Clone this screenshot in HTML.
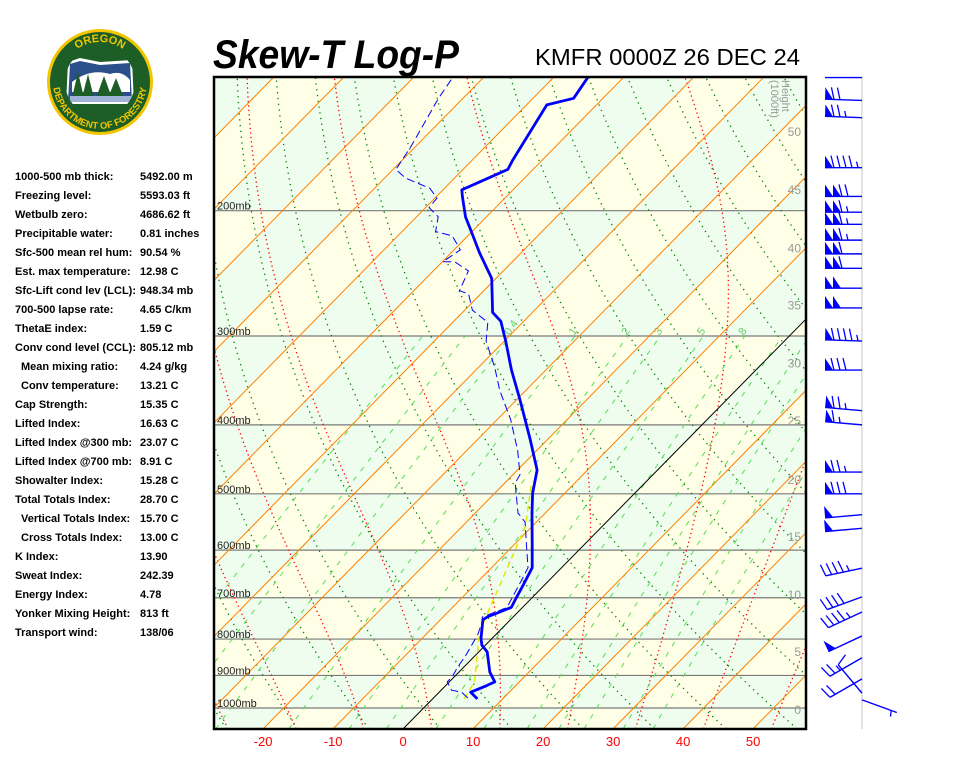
<!DOCTYPE html>
<html><head><meta charset="utf-8">
<style>
html,body{margin:0;padding:0;background:#fff;width:960px;height:768px;overflow:hidden}
svg{display:block;font-family:"Liberation Sans",Arial,sans-serif}
</style></head>
<body>
<svg id="root" width="960" height="768" viewBox="0 0 960 768" xmlns="http://www.w3.org/2000/svg">
<defs>
<clipPath id="plotclip"><rect x="214" y="77" width="592" height="652"/></clipPath>
<clipPath id="logoclip"><circle cx="100" cy="82" r="35"/></clipPath>
<path id="arcTop" d="M60,82 A40,40 0 0 1 140,82"/>
<path id="arcBot" d="M55.8,65.9 A47,47 0 1 0 144.2,65.9"/>
</defs>
<g>
<circle cx="100" cy="82" r="53" fill="#f2c500"/>
<circle cx="100" cy="82" r="50" fill="#1d5e26"/>
<g clip-path="url(#logoclip)">
<path d="M68,62 L80,58 L100,62 L132,60 L134,104 L66,104 Z" fill="#ffffff"/>
<path d="M70,64 L80,61 L100,65 L130,63 L132,102 L68,102 Z" fill="#2a4f8a"/>
<path d="M72,82 Q90,68 110,74 Q122,70 130,80 L130,92 L72,92 Z" fill="#ffffff"/>
<path d="M72,98 L78,72 L84,98 Z M82,98 L88,74 L94,98 Z M96,98 L104,76 L112,98 Z M108,98 L116,78 L124,98 Z" fill="#1d5e26"/>
<rect x="70" y="96" width="62" height="6" fill="#9fb4d6"/>
</g>
<text font-size="11" font-weight="bold" fill="#f2c500" text-anchor="middle"><textPath href="#arcTop" startOffset="50%">OREGON</textPath></text>
<text font-size="9.5" font-weight="bold" fill="#f2c500" text-anchor="middle"><textPath href="#arcBot" startOffset="50%">DEPARTMENT OF FORESTRY</textPath></text>
</g>
<text x="213" y="68" font-size="40" font-weight="bold" font-style="italic" textLength="246" lengthAdjust="spacingAndGlyphs">Skew-T Log-P</text>
<text x="535" y="65" font-size="23" textLength="265" lengthAdjust="spacingAndGlyphs">KMFR 0000Z 26 DEC 24</text>
<g id="stats" font-size="11" font-weight="bold"></g>
<g id="plot" clip-path="url(#plotclip)"></g>
<rect x="214" y="77" width="592" height="652" fill="none" stroke="#000" stroke-width="2.5"/>
<g id="axes"></g>
<line x1="862" y1="77" x2="862" y2="729" stroke="#e2e2e2" stroke-width="2"/>
<g id="barbs"></g>
</svg>
<script>
// ---------- data ----------
const statLabels = ["1000-500 mb thick:","Freezing level:","Wetbulb zero:","Precipitable water:","Sfc-500 mean rel hum:","Est. max temperature:","Sfc-Lift cond lev (LCL):","700-500 lapse rate:","ThetaE index:","Conv cond level (CCL):","Mean mixing ratio:","Conv temperature:","Cap Strength:","Lifted Index:","Lifted Index @300 mb:","Lifted Index @700 mb:","Showalter Index:","Total Totals Index:","Vertical Totals Index:","Cross Totals Index:","K Index:","Sweat Index:","Energy Index:","Yonker Mixing Height:","Transport wind:"];
const statValues = ["5492.00 m","5593.03 ft","4686.62 ft","0.81 inches","90.54 %","12.98 C","948.34 mb","4.65 C/km","1.59 C","805.12 mb","4.24 g/kg","13.21 C","15.35 C","16.63 C","23.07 C","8.91 C","15.28 C","28.70 C","15.70 C","13.00 C","13.90","242.39","4.78","813 ft","138/06"];
const statIndent = [10,11,18,19];

const tempP = [971,950,931,919,890,834,816,798,752,745,733,722,705,670,635,594,532,499,463,420,369,335,305,286,278,249,229,215,204,191,187,183,175,170,142,139,130];
const tempT = [6.4,4.5,5.8,6.5,4.4,1.2,-0.5,-1.6,-3.9,-3.7,-2.6,-1.6,-2.1,-3.1,-4.2,-7.1,-11.9,-14.6,-17.2,-22.4,-29.5,-34.9,-39.8,-43.3,-45.7,-50.6,-56,-59.8,-63,-66.3,-67.3,-66.1,-63.6,-64.2,-67.1,-64.2,-65.1];
const dewP = [968,950,944,919,904,875,847,823,788,760,745,733,722,705,670,635,594,548,532,483,470,434,393,358,332,305,287,276,262,259,243,236,236,227,217,214,204,198,192,186,180,175,163,139,130];
const dewT = [4.9,3.2,1.5,-0.3,-0.3,-0.9,-1.3,-1.8,-2.6,-3.6,-4.4,-3.2,-2.2,-2.7,-3.7,-4.8,-7.9,-11.6,-13.9,-18.5,-19,-22.8,-28.1,-33.7,-37.7,-42.6,-45,-48.9,-51.7,-53.5,-55,-58.2,-59.9,-59.1,-62.2,-65.2,-66.9,-69.5,-69.7,-72.1,-77,-79.6,-80.6,-83.5,-84.4];
const wetbP = [971,919,798,760,555,480];
const wetbT = [4.5,3.6,-1.9,-3.4,-11.0,-16.4];

const pressureLevels = [200,300,400,500,600,700,800,900,1000];
const tempTicks = [-20,-10,0,10,20,30,40,50];
const mixRatios = [0.1,0.2,0.4,1,2,3,5,8,12,16,20,28,36];
const mixLabels = ["0.4","1","2","3","5","8"];
const heightLabels = [0,5,10,15,20,25,30,35,40,45,50];
const heightP = [1006,834,694,575,478,395,328,272,226,187,155];

const barbP = [130,140,148,174,191,201,209,220,230,241,257,274,305,335,382,400,466,500,535,559,636,698,733,792,850,910,953,974];
const barbDir = [270,272,272,270,270,270,270,270,270,270,270,270,272,270,275,275,270,270,265,265,258,250,245,245,240,240,320,110];
const barbSpd = [0,70,75,95,120,115,115,115,110,110,100,100,95,80,75,65,75,80,50,50,45,40,45,50,25,20,10,6];

// ---------- scales ----------
const yP = p => 708 - 309*Math.log(1000/p);
const xT = (T,p) => 403 + 7*T + 0.983*(729 - yP(p));
const NS = "http://www.w3.org/2000/svg";
function mk(tag, attrs, parent){const e=document.createElementNS(NS,tag);for(const k in attrs)e.setAttribute(k,attrs[k]);parent.appendChild(e);return e;}
const plot = document.getElementById('plot');
const axes = document.getElementById('axes');
const pts = arr => arr.map(a=>a[0].toFixed(1)+','+a[1].toFixed(1)).join(' ');

// background checkerboard
const pBounds = [1070,1000,900,800,700,600,500,400,300,200,100];
for(let i=0;i<pBounds.length-1;i++){
  const pb=pBounds[i], pt=pBounds[i+1];
  const r = Math.floor((pt+1)/100);
  for(let k=-18;k<=8;k++){
    const t0=10*k,t1=10*k+10;
    const fill = ((k+r)%2!==0) ? '#eefdee' : '#ffffe7';
    const c = mk('polygon',{points:pts([[xT(t0,pb),yP(pb)],[xT(t1,pb),yP(pb)],[xT(t1,pt),yP(pt)],[xT(t0,pt),yP(pt)]]),fill:fill},plot);
    
    
  }
}
// pressure lines
pressureLevels.forEach(p=>{
  const l=mk('line',{x1:214,x2:806,y1:yP(p),y2:yP(p),stroke:'#7a7a7a','stroke-width':1.2},plot);
  
  
});
// dry adiabats
for(let k=-12;k<=18;k++){
  const th=273.15+10*k; const a=[];
  for(let p=1070;p>=120;p-=10)a.push([xT(th*Math.pow(p/1000,0.286)-273.15,p),yP(p)]);
  const l=mk('polyline',{points:pts(a),fill:'none',stroke:'#008000','stroke-width':1.3,'stroke-dasharray':'1.3 4.5'},plot);
  
  
}
// moist adiabats
function es(Tc){return 6.112*Math.exp(17.67*Tc/(Tc+243.5));}
for(let k=-5;k<=6;k++){
  let T=4.1+9.7*k+273.15; const a=[];
  for(let p=1070;p>=120;p-=5){
    a.push([xT(T-273.15,p),yP(p)]);
    const e=es(T-273.15); const rs=0.622*e/Math.max(p-e,1);
    const g=(287*T+2.5e6*rs)/(1004+2.5e6*2.5e6*rs*0.622/(287*T*T))/p;
    T-= g*5;
  }
  const l=mk('polyline',{points:pts(a),fill:'none',stroke:'#ff0000','stroke-width':1.3,'stroke-dasharray':'1.3 3.2'},plot);
  
  
}
// mixing ratio lines
function tdw(w,p){const e=w*p/(622+w);const L=Math.log(e/6.112);return 243.5*L/(17.67-L);}
mixRatios.forEach(w=>{
  const a=[];for(let p=1070;p>=300;p-=10)a.push([xT(tdw(w,p),p),yP(p)]);
  const l=mk('polyline',{points:pts(a),fill:'none',stroke:'#55dd55','stroke-width':1,'stroke-dasharray':'5 7'},plot);
  
  
});
mixLabels.forEach(s=>{
  const w=parseFloat(s); const x=xT(tdw(w,296),296)-4, y=yP(296)+4;
  const t=mk('text',{x:x,y:y,'font-size':11,fill:'#66cc66',transform:`rotate(-55 ${x} ${y})`},plot);
  t.textContent=s;
  
  
});
// isotherms
for(let k=-18;k<=8;k++){
  const T=10*k;
  const l=mk('line',{x1:xT(T,1070),y1:yP(1070),x2:xT(T,120),y2:yP(120),stroke:T===0?'#000':'#ff8000','stroke-width':1},plot);
  
  
}
// pressure labels
pressureLevels.forEach(p=>{
  const t=mk('text',{x:217,y:yP(p)-1,'font-size':11,fill:'#222'},plot);
  t.textContent=p+'mb';
  
  
});
// height labels
heightLabels.forEach((h,i)=>{
  const t=mk('text',{x:801,y:yP(heightP[i])+4,'font-size':12,fill:'#999','text-anchor':'end'},plot);
  t.textContent=h;
  
  
});
const ht=mk('text',{x:782,y:80,'font-size':11,fill:'#999',transform:'rotate(90 782 80)'},plot);
ht.textContent='Height';


const ht2=mk('text',{x:771,y:80,'font-size':11,fill:'#999',transform:'rotate(90 771 80)'},plot);
ht2.textContent='(1000ft)';


// profiles
const wl=mk('polyline',{points:pts(wetbP.map((p,i)=>[xT(wetbT[i],p),yP(p)])),fill:'none',stroke:'#e6e600','stroke-width':1.5,'stroke-dasharray':'6 4'},plot);


const dl=mk('polyline',{points:pts(dewP.map((p,i)=>[xT(dewT[i],p),yP(p)])),fill:'none',stroke:'#0000ff','stroke-width':1,'stroke-dasharray':'8 4'},plot);


const tl=mk('polyline',{points:pts(tempP.map((p,i)=>[xT(tempT[i],p),yP(p)])),fill:'none',stroke:'#0000ff','stroke-width':2.8,'stroke-linejoin':'round'},plot);


// x ticks
tempTicks.forEach(T=>{
  const t=mk('text',{x:xT(T,1070),y:746,'font-size':13,fill:'#ff0000','text-anchor':'middle'},axes);
  t.textContent=T;
  
  
});
// stats
const stats=document.getElementById('stats');
statLabels.forEach((s,i)=>{
  const y=180+19*i;
  const a=mk('text',{x:statIndent.includes(i)?21:15,y:y},stats);
  a.textContent=s;
  
  
  const b=mk('text',{x:140,y:y},stats);
  b.textContent=statValues[i];
  
  
});
// wind barbs
const bg=document.getElementById('barbs');
barbP.forEach((p,i)=>{
  const d=barbDir[i]*Math.PI/180, S=[862,yP(p)], L=37;
  const u=[Math.sin(d),-Math.cos(d)], q=[Math.cos(d),Math.sin(d)];
  const P=s=>[S[0]+u[0]*s,S[1]+u[1]*s];
  const g=mk('g',{},bg);
  
  
  const E=P(L);
  mk('line',{x1:S[0],y1:S[1],x2:E[0],y2:E[1],stroke:'#0000ff','stroke-width':1.4},g);
  let spd=Math.round(barbSpd[i]/5)*5, pos=L;
  while(spd>=50){
    const A=P(pos),B=P(pos-8);const tip=[A[0]+q[0]*12,A[1]+q[1]*12];
    mk('polygon',{points:pts([A,tip,B]),fill:'#0000ff'},g);
    pos-=8;spd-=50;
  }
  if(pos<L)pos-=1;
  while(spd>=10){
    const A=P(pos),tip=[A[0]+q[0]*12+u[0]*3,A[1]+q[1]*12+u[1]*3];
    mk('line',{x1:A[0],y1:A[1],x2:tip[0],y2:tip[1],stroke:'#0000ff','stroke-width':1.3},g);
    pos-=6;spd-=10;
  }
  if(spd>=5){
    if(pos===L)pos-=6;
    const A=P(pos),tip=[A[0]+q[0]*6+u[0]*1.5,A[1]+q[1]*6+u[1]*1.5];
    mk('line',{x1:A[0],y1:A[1],x2:tip[0],y2:tip[1],stroke:'#0000ff','stroke-width':1.3},g);
  }
});
</script>
</body></html>
